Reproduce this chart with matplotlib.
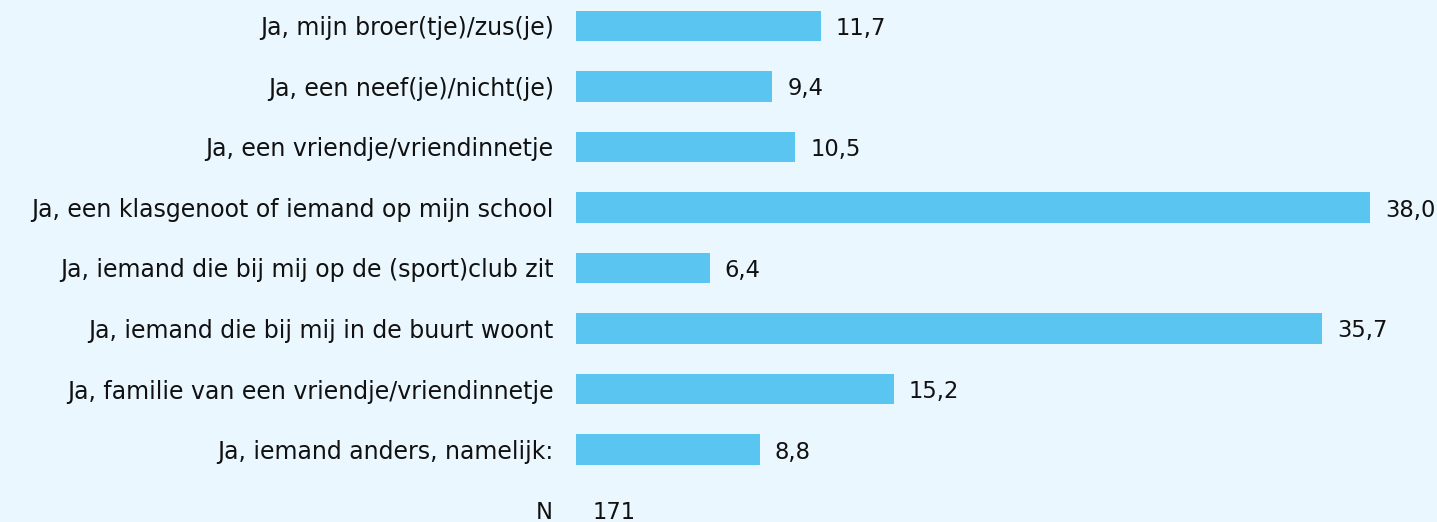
import matplotlib.pyplot as plt

# Antwoorden en percentages
categories = [
    "Ja, mijn broer(tje)/zus(je)",
    "Ja, een neef(je)/nicht(je)",
    "Ja, een vriendje/vriendinnetje",
    "Ja, een klasgenoot of iemand op mijn school",
    "Ja, iemand die bij mij op de (sport)club zit",
    "Ja, iemand die bij mij in de buurt woont",
    "Ja, familie van een vriendje/vriendinnetje",
    "Ja, iemand anders, namelijk:",
]
values = [11.7, 9.4, 10.5, 38.0, 6.4, 35.7, 15.2, 8.8]
n_total = 171

bg = "#EAF7FE"
bar_color = "#5BC5F2"
fs = 16.3

fig = plt.figure(figsize=(14.37, 5.22), dpi=100, facecolor=bg)
ax = fig.add_axes([576 / 1437, 0, 1 - 576 / 1437, 1])
ax.set_facecolor(bg)

ypos = list(range(len(categories)))
ax.barh(ypos, values, height=0.5, color=bar_color)

for y, v in zip(ypos, values):
    ax.text(v + 0.72, y, f"{v:.1f}".replace(".", ","), va="center_baseline",
            ha="left", fontsize=fs, color="#111111")

ax.set_yticks(ypos)
ax.set_yticklabels(categories, fontsize=17, color="#111111",
                   va="center_baseline")
ax.tick_params(axis="y", length=0, pad=16)

# N-rij onder de balken
n_row = len(categories)
ax.text(-1.1, n_row, "N", ha="right", va="center_baseline", fontsize=fs, color="#111111")
ax.text(0.8, n_row, str(n_total), ha="left", va="center_baseline", fontsize=fs,
        color="#111111")

ax.set_xlim(0, (1437 - 576) / 20.9)
ax.set_ylim((522 - 26) / 60.5, -26 / 60.5)
ax.set_xticks([])
for s in ax.spines.values():
    s.set_visible(False)

fig.savefig("out.png", dpi=100, facecolor=bg)
